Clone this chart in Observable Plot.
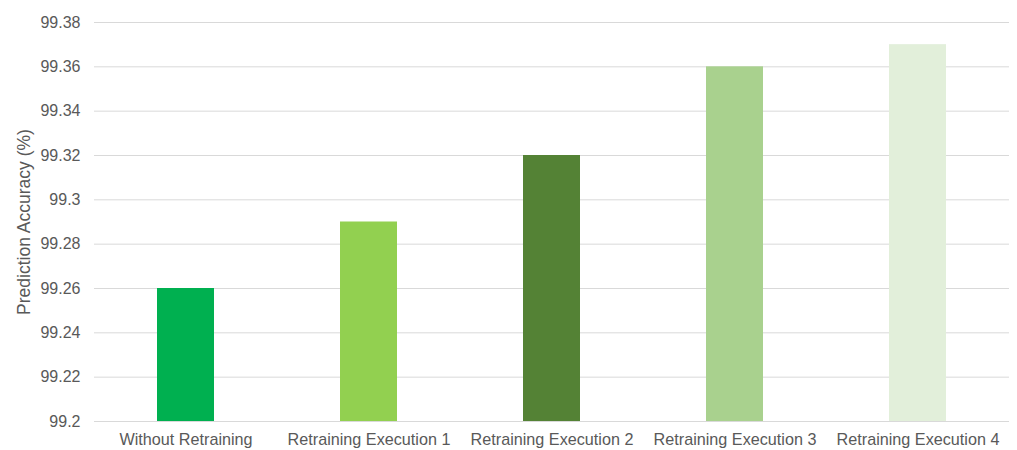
<!DOCTYPE html>
<html><head><meta charset="utf-8">
<script src="https://cdn.jsdelivr.net/npm/d3@7"></script>
<script src="https://cdn.jsdelivr.net/npm/@observablehq/plot@0.6"></script>
<style>body{margin:0;background:#fff;font-family:"Liberation Sans",Arial,sans-serif;}</style>
</head><body><div id="chart"></div>
<script>
const categories = ["Without Retraining","Retraining Execution 1","Retraining Execution 2","Retraining Execution 3","Retraining Execution 4"];
const values = [99.26, 99.29, 99.32, 99.36, 99.37];
const colors = ["#00B050","#92D050","#548235","#A9D18E","#E2EFDA"];
const yTicks = [99.2,99.22,99.24,99.26,99.28,99.3,99.32,99.34,99.36,99.38];
const baseline = 99.2;

const data = categories.map((c,i)=>({cat:c, value:values[i], color:colors[i]}));

const chart = Plot.plot({
  width: 1017, height: 450,
  marginLeft: 94, marginRight: 8, marginTop: 22, marginBottom: 29,
  style: {fontFamily: '"Liberation Sans",Arial,sans-serif', background: "#fff"},
  x: {domain: categories, paddingInner: 0.69, paddingOuter: 0.345, label: null},
  y: {domain: [99.2, 99.38], label: null},
  marks: [
    Plot.ruleY(yTicks, {stroke: "#d9d9d9", strokeWidth: 1}),
    Plot.barY(data, {x: "cat", y1: () => baseline, y2: "value", fill: d => d.color}),
    Plot.axisY(yTicks, {tickSize: 0, tickPadding: 14, fontSize: 16, color: "#595959", tickFormat: d => String(+d.toFixed(2)), label: null}),
    Plot.axisX({tickSize: 0, tickPadding: 12, fontSize: 16.2, color: "#595959", label: null}),
    Plot.text(["Prediction Accuracy (%)"], {frameAnchor: "left", textAnchor: "middle", dx: -70, rotate: -90, fontSize: 17.5, fill: "#595959"})
  ]
});
document.getElementById("chart").append(chart);
</script></body></html>
